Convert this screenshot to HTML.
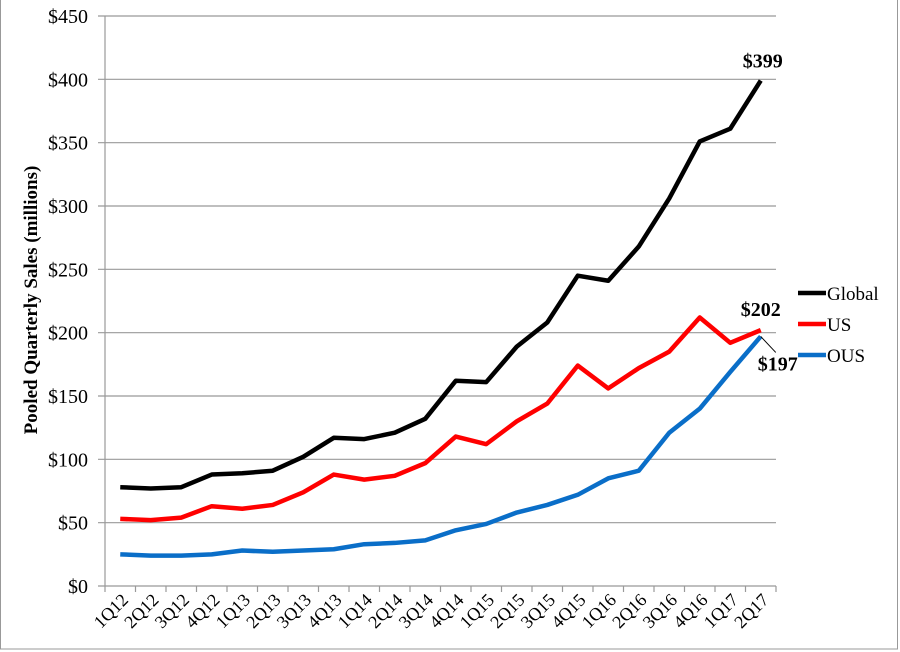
<!DOCTYPE html>
<html><head><meta charset="utf-8"><style>
body{margin:0;background:#fff}
svg{display:block;font-family:"Liberation Serif",serif}
</style></head><body>
<svg id="c" width="900" height="652">
<rect x="0.5" y="-2" width="897" height="651" fill="none" stroke="#999"/>
<text x="0" y="0" transform="translate(37,300) rotate(-90)" text-anchor="middle" font-weight="bold" font-size="19">Pooled Quarterly Sales (millions)</text>
</svg>
<script>
const categories=["1Q12","2Q12","3Q12","4Q12","1Q13","2Q13","3Q13","4Q13","1Q14","2Q14","3Q14","4Q14","1Q15","2Q15","3Q15","4Q15","1Q16","2Q16","3Q16","4Q16","1Q17","2Q17"];
const globalVals=[78,77,78,88,89,91,102,117,116,121,132,162,161,189,208,245,241,268,306,351,361,399];
const usVals=[53,52,54,63,61,64,74,88,84,87,97,118,112,130,144,174,156,172,185,212,192,202];
const ousVals=[25,24,24,25,28,27,28,29,33,34,36,44,49,58,64,72,85,91,121,140,169,197];
const yTicks=[0,50,100,150,200,250,300,350,400,450];
const seriesNames=["Global","US","OUS"];
const svg=document.getElementById('c');const NS="http://www.w3.org/2000/svg";
const L=105,R=776,T=16,B=586,YMAX=450;
const step=(R-L)/categories.length;
const x=i=>L+step*(i+0.5);
const y=v=>B-(v/YMAX)*(B-T);
function mk(t,a){const e=document.createElementNS(NS,t);for(const k in a)e.setAttribute(k,a[k]);svg.appendChild(e);return e;}
yTicks.forEach(v=>{
 const g=mk('line',{x1:L-7,x2:R,y1:y(v),y2:y(v),stroke:'#999','stroke-width':1.2});
 
 
 const t=mk('text',{x:88,y:y(v)+7,'text-anchor':'end','font-size':20});
 t.textContent='$'+v;
 
 
});
const ax=mk('line',{x1:L,x2:L,y1:T,y2:B,stroke:'#999','stroke-width':1.2});


for(let i=0;i<=categories.length;i++){
 const tk=mk('line',{x1:L+step*i,x2:L+step*i,y1:B,y2:B+6,stroke:'#999','stroke-width':1.2});
 
 
}
categories.forEach((c,i)=>{
 const t=mk('text',{x:0,y:0,'text-anchor':'end','font-size':18,transform:`translate(${x(i)+9},${B+15}) rotate(-45)`});
 t.textContent=c;
 
 
});
const series=[[globalVals,'#000'],[usVals,'#f00'],[ousVals,'#0a6ec8']];
series.forEach(([vals,col],si)=>{
 const p=mk('polyline',{points:vals.map((v,i)=>x(i)+','+y(v)).join(' '),fill:'none',stroke:col,'stroke-width':4.5,'stroke-linejoin':'round'});
 
 
 const ly=293+31*si;
 const ll=mk('line',{x1:798,x2:826,y1:ly,y2:ly,stroke:col,'stroke-width':4.5});
 
 
 const lt=mk('text',{x:827,y:ly+7,'font-size':19});
 lt.textContent=seriesNames[si];
 
 
});
const n=categories.length-1;
const a1=mk('text',{x:x(n)+2,y:y(globalVals[n])-13,'text-anchor':'middle','font-size':20,'font-weight':'bold'});
a1.textContent='$'+globalVals[n];


const a2=mk('text',{x:x(n),y:y(usVals[n])-14,'text-anchor':'middle','font-size':20,'font-weight':'bold'});
a2.textContent='$'+usVals[n];


const cl=mk('line',{x1:x(n),y1:y(ousVals[n]),x2:x(n)+15,y2:y(ousVals[n])+16,stroke:'#000','stroke-width':1});


const a3=mk('text',{x:x(n)+17,y:y(ousVals[n])+34,'text-anchor':'middle','font-size':20,'font-weight':'bold'});
a3.textContent='$'+ousVals[n];


</script>
</body></html>
